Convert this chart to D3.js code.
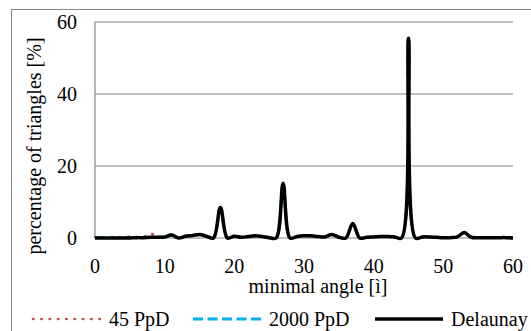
<!DOCTYPE html>
<html>
<head>
<meta charset="utf-8">
<script src="https://cdn.jsdelivr.net/npm/d3@7"></script>
<style>
  body { margin: 0; background: #fff; }
  text { font-family: "Liberation Serif", "Times New Roman", serif; fill: #000; }
</style>
</head>
<body>
<div id="chart"></div>
<script>
var width = 531,
    height = 331;

// minimal angle in degrees, 0..60
var angles = d3.range(0, 61);

var delaunay = [0, 0, 0, 0, 0, 0, 0.1, 0.1, 0.2, 0.2,
  0.3, 0.8, 0, 0.5, 0.7, 1, 0.5, 0, 8.5, 0,
  0.5, 0.2, 0.4, 0.6, 0.4, 0.1, 0, 15.2, 0, 0.4,
  0.6, 0.6, 0.4, 0.3, 1.0, 0.2, 0, 4, 0, 0.2,
  0.3, 0.4, 0.4, 0.3, 0, 55.5, 0, 0.3, 0.3, 0.2,
  0.1, 0.1, 0.3, 1.5, 0.2, 0.1, 0.1, 0.1, 0.1, 0.1, 0];

var ppd45 = [0.2, 0.1, 0.2, 0.3, 0.2, 0.4, 0.3, 0.4, 1.2, 0.3,
  0.3, 0.8, 0.1, 0.5, 0.7, 1, 0.5, 0.1, 9, 0,
  0.5, 0.2, 0.4, 0.6, 0.4, 0.1, 0, 15.2, 0, 0.4,
  0.6, 0.6, 0.4, 0.3, 1.0, 0.2, 0, 4, 0, 0.2,
  0.3, 0.4, 0.4, 0.3, 0, 55.3, 0, 0.3, 0.3, 0.2,
  0.1, 0.1, 0.3, 1.5, 0.2, 0.1, 0.1, 0.1, 0.1, 0.1, 0];

var ppd2000 = [0.1, 0.1, 0.1, 0.1, 0.1, 0.1, 0.1, 0.2, 0.2, 0.2,
  0.3, 0.9, 0, 0.5, 0.7, 1, 0.5, 0, 8.4, 0,
  0.5, 0.2, 0.4, 0.6, 0.4, 0.1, 0, 15.3, 0, 0.4,
  0.6, 0.6, 0.4, 0.3, 1.0, 0.2, 0, 4, 0, 0.2,
  0.3, 0.4, 0.4, 0.3, 0, 55.6, 0, 0.3, 0.3, 0.2,
  0.1, 0.1, 0.3, 1.5, 0.2, 0.1, 0.1, 0.1, 0.1, 0.1, 0];

var xTicks = [0, 10, 20, 30, 40, 50, 60];
var yTicks = [0, 20, 40, 60];

var series = [
  { name: "45 PpD", values: ppd45, color: "#c0504d", width: 2.6, dash: "0.5,7.8", cap: "round" },
  { name: "2000 PpD", values: ppd2000, color: "#00b0f0", width: 2.8, dash: "10,4.5", cap: "butt" },
  { name: "Delaunay", values: delaunay, color: "#000000", width: 3.5, dash: null, cap: "butt" }
];

var svg = d3.select("#chart").append("svg")
  .attr("width", width)
  .attr("height", height);

// outer chart border (runs off the right and bottom edges)
svg.append("rect")
  .attr("x", 11.5).attr("y", 9.5)
  .attr("width", 560).attr("height", 360)
  .attr("fill", "none")
  .attr("stroke", "#868686");

var x = d3.scaleLinear().domain([0, 60]).range([95, 513]);
var y = d3.scaleLinear().domain([0, 60]).range([238, 22]);

// gridlines
svg.selectAll(".grid")
  .data(yTicks)
  .enter().append("line")
  .attr("x1", x(0)).attr("x2", x(60))
  .attr("y1", function(d) { return y(d); })
  .attr("y2", function(d) { return y(d); })
  .attr("stroke", "#868686")
  .attr("stroke-width", 1.2);

svg.append("line")
  .attr("x1", x(0)).attr("x2", x(0))
  .attr("y1", y(0)).attr("y2", y(60))
  .attr("stroke", "#868686")
  .attr("stroke-width", 1.2);

// tick labels
svg.selectAll(".ylab")
  .data(yTicks)
  .enter().append("text")
  .attr("x", 77)
  .attr("y", function(d) { return y(d); })
  .attr("dy", "0.35em")
  .attr("text-anchor", "end")
  .style("font-size", "20px")
  .text(function(d) { return d; });

svg.selectAll(".xlab")
  .data(xTicks)
  .enter().append("text")
  .attr("x", function(d) { return x(d); })
  .attr("y", 273)
  .attr("text-anchor", "middle")
  .style("font-size", "20px")
  .text(function(d) { return d; });

svg.append("text")
  .attr("x", 318)
  .attr("y", 293)
  .attr("text-anchor", "middle")
  .style("font-size", "20px")
  .text("minimal angle [ì]");

svg.append("text")
  .attr("transform", "translate(41,146) rotate(-90)")
  .attr("text-anchor", "middle")
  .style("font-size", "20px")
  .text("percentage of triangles [%]");

// lines (smoothed like a spreadsheet chart)
var line = d3.line()
  .x(function(d, i) { return x(angles[i]); })
  .y(function(d) { return y(d); })
  .curve(d3.curveCatmullRom.alpha(0.5));

svg.selectAll(".series")
  .data(series)
  .enter().append("path")
  .attr("d", function(d) { return line(d.values); })
  .attr("fill", "none")
  .attr("stroke", function(d) { return d.color; })
  .attr("stroke-width", function(d) { return d.width; })
  .attr("stroke-dasharray", function(d) { return d.dash; })
  .attr("stroke-linecap", function(d) { return d.cap; })
  .attr("stroke-linejoin", "round");

// legend
var legendPos = [33, 193, 375];
var legend = svg.selectAll(".legend")
  .data(series)
  .enter().append("g")
  .attr("transform", function(d, i) { return "translate(" + legendPos[i] + ",319)"; });

legend.append("line")
  .attr("x1", 0).attr("x2", 68)
  .attr("stroke", function(d) { return d.color; })
  .attr("stroke-width", function(d) { return d.width; })
  .attr("stroke-dasharray", function(d) { return d.dash; })
  .attr("stroke-linecap", function(d) { return d.cap; });

legend.append("text")
  .attr("x", 76)
  .attr("dy", "0.35em")
  .style("font-size", "20px")
  .text(function(d) { return d.name; });
</script>
</body>
</html>
